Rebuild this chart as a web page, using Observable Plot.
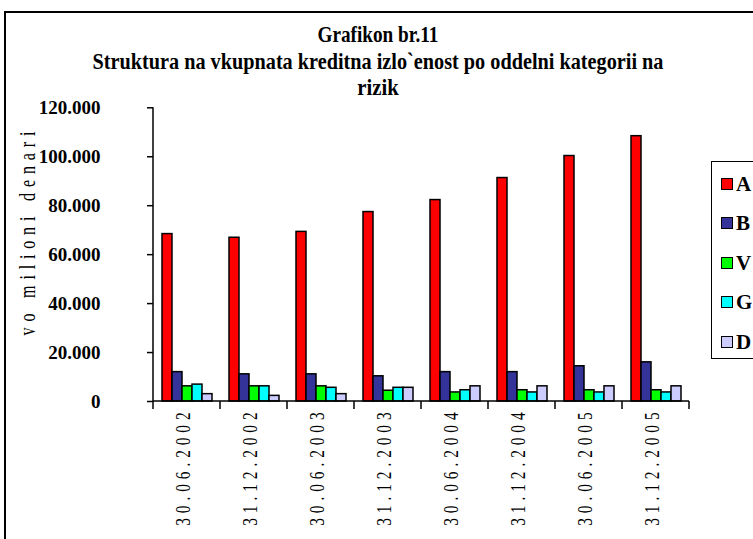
<!DOCTYPE html>
<html>
<head>
<meta charset="utf-8">
<script src="https://cdn.jsdelivr.net/npm/d3@7"></script>
<script src="https://cdn.jsdelivr.net/npm/@observablehq/plot@0.6"></script>
<style>
  html, body { margin: 0; padding: 0; background: #fff; overflow: hidden; }
  #wrap { position: relative; width: 753px; height: 539px; overflow: hidden; background: #fff; }
  #frame { position: absolute; left: 4px; top: 11px; width: 830px; height: 620px; border: 2px solid #000; box-sizing: border-box; pointer-events: none; }
  .tl { position: absolute; left: -22px; width: 800px; text-align: center; font-family: "Liberation Serif", "Times New Roman", serif; font-weight: bold; color: #000; white-space: nowrap; line-height: 1; transform-origin: 50% 50%; }
  #t1 { top: 22px; font-size: 24px; transform: scaleX(0.8); }
  #t2 { top: 50px; font-size: 23px; transform: scaleX(0.88); }
  #t3 { top: 76px; font-size: 23px; transform: scaleX(0.9); }
  #chart { position: absolute; left: 0; top: 100px; }
  #legend { position: absolute; left: 711px; top: 161px; width: 70px; height: 198px; border: 1.5px solid #000; box-sizing: border-box; background: #fff; }
  .li { position: absolute; left: 0; height: 22px; }
  .sw { position: absolute; left: 9px; top: 5px; width: 10px; height: 10px; border: 1.5px solid #000; box-sizing: content-box; }
  .lt { position: absolute; left: 24px; top: 0; font-family: "Liberation Serif", serif; font-weight: bold; font-size: 21px; line-height: 22px; color: #000; }
</style>
</head>
<body>
<div id="wrap">
  <div id="frame"></div>
  <div id="t1" class="tl">Grafikon br.11</div>
  <div id="t2" class="tl">Struktura na vkupnata kreditna izlo`enost po oddelni kategorii na</div>
  <div id="t3" class="tl">rizik</div>
  <div id="chart"></div>
  <div id="legend"></div>
</div>
<script>
// ---- data ----
const dates = ["30.06.2002", "31.12.2002", "30.06.2003", "31.12.2003", "30.06.2004", "31.12.2004", "30.06.2005", "31.12.2005"];
const series = ["A", "B", "V", "G", "D"];
const colors = ["#FF0000", "#333399", "#00FF00", "#00FFFF", "#CCCCFF"];
const valuesA = [68400, 66900, 69300, 77400, 82300, 91300, 100300, 108400];
const valuesB = [12000, 11100, 11100, 10300, 12000, 12000, 14400, 16000];
const valuesV = [6200, 6200, 6200, 4400, 3700, 4600, 4600, 4600];
const valuesG = [6900, 6200, 5600, 5600, 4600, 3700, 3700, 3700];
const valuesD = [3000, 2300, 3000, 5600, 6200, 6200, 6200, 6200];
const yTicks = [0, 20000, 40000, 60000, 80000, 100000, 120000];
const yTitle = "vo milioni denari";

const seriesValues = [valuesA, valuesB, valuesV, valuesG, valuesD];
const rows = [];
dates.forEach((d, i) => series.forEach((s, j) => rows.push({date: d, series: s, value: seriesValues[j][i]})));

const fmt = v => v === 0 ? "0" : d3.format(",")(v).replace(/,/g, ".");

const chart = Plot.plot({
  width: 753,
  height: 439,
  marginLeft: 153,
  marginRight: 64,
  marginTop: 7.3,
  marginBottom: 138,
  style: {fontFamily: "Liberation Serif", background: "transparent", overflow: "visible", color: "#000"},
  fx: {domain: dates, padding: 0, label: null},
  x: {domain: series, paddingInner: 0, paddingOuter: 0.75, axis: null},
  y: {domain: [0, 120000], label: null},
  color: {domain: series, range: colors},
  marks: [
    Plot.barY(rows, {fx: "date", x: "series", y: "value", fill: "series", stroke: "#000", strokeWidth: 1.5}),
    Plot.axisY({ticks: yTicks, tickFormat: fmt, tickSize: 6, tickPadding: 47, strokeWidth: 1.5, fontSize: 19,
      label: yTitle, labelArrow: "none", labelAnchor: "center", labelOffset: 135}),
    Plot.axisFx({anchor: "bottom", tickSize: 0, tickRotate: -90, tickPadding: 6, fontSize: 22, label: null})
  ]
});

document.getElementById("chart").appendChild(chart);

// style tweaks of text
const svg = d3.select(chart);
svg.selectAll('g[aria-label="y-axis tick label"]').style("font-weight", "bold");
svg.selectAll('g[aria-label="fx-axis tick label"] text').each(function () {
  const t = this.getAttribute("transform") || "";
  this.setAttribute("transform", "translate(-4,0) " + t + " scale(0.7,1)");
}).style("letter-spacing", "7px");
svg.selectAll('g[aria-label="y-axis label"] text').each(function () {
  const t = this.getAttribute("transform") || "";
  this.setAttribute("transform", "translate(0,-24) " + t + " scale(0.7,1)");
  this.textContent = yTitle;
}).style("letter-spacing", "8.3px").style("font-size", "23px").style("font-weight", "normal");

// axis lines and category boundary ticks, positioned with the chart's own scales
const fxS = chart.scale("fx");
const yS = chart.scale("y");
const r0 = Math.min(...fxS.range), r1 = Math.max(...fxS.range);
const y0 = yS.apply(0), yTop = yS.apply(yTicks[yTicks.length - 1]);
const g = svg.append("g").attr("stroke", "#000").attr("stroke-width", 1.5).attr("fill", "none");
g.append("line").attr("x1", r0).attr("x2", r0).attr("y1", yTop).attr("y2", y0);
g.append("line").attr("x1", r0).attr("x2", r1).attr("y1", y0).attr("y2", y0);
const bounds = dates.map(d => fxS.apply(d)).concat([r1]);
bounds.forEach(x => g.append("line").attr("x1", x).attr("x2", x).attr("y1", y0).attr("y2", y0 + 8));

// legend
const legend = d3.select("#legend");
series.forEach((s, i) => {
  const item = legend.append("div").attr("class", "li").style("top", (10.5 + i * 39.55) + "px");
  item.append("div").attr("class", "sw").style("background", colors[i]);
  item.append("div").attr("class", "lt").text(s);
});
</script>
</body>
</html>
